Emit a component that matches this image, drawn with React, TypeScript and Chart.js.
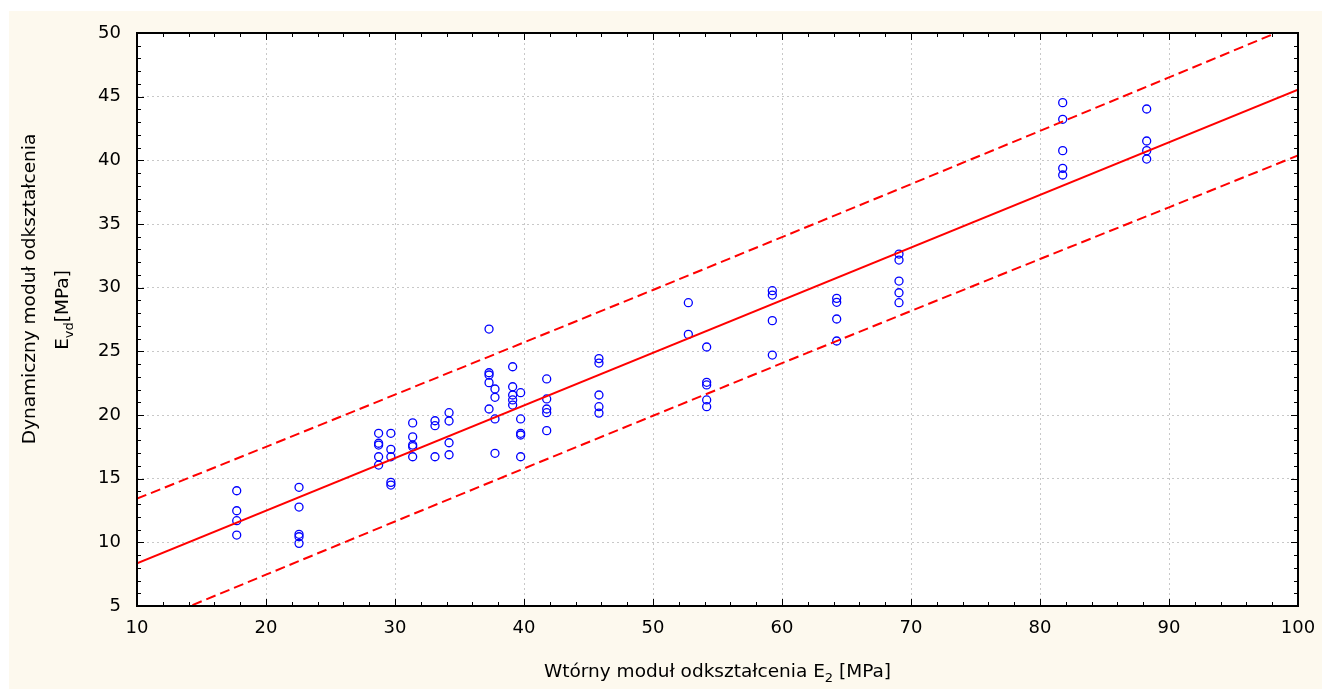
import { useEffect, useRef } from "react";
import { Chart, registerables } from "chart.js";
Chart.register(...registerables);

// Wtórny moduł E2 levels and the measured Evd values at each level
const e2Levels = [17.73, 22.56, 28.73, 29.68, 31.37, 33.1, 34.19, 37.29, 37.75, 39.12, 39.74, 41.76, 45.81, 52.74, 54.16, 59.25, 64.24, 69.07, 81.76, 88.27];
const evdAtLevel = [
  [14.05, 12.48, 11.7, 10.57],
  [14.32, 12.77, 10.63, 10.44, 9.92],
  [18.56, 17.78, 17.64, 16.72, 16.07],
  [18.56, 17.3, 16.72, 14.71, 14.5],
  [19.38, 18.28, 17.64, 17.51, 16.72],
  [19.55, 19.16, 16.72],
  [20.18, 19.53, 17.82, 16.88],
  [26.75, 23.32, 23.14, 22.54, 20.47],
  [22.04, 21.39, 19.69, 16.99],
  [23.79, 22.22, 21.57, 21.18, 20.78],
  [21.75, 19.69, 18.56, 18.43, 16.72],
  [22.83, 21.26, 20.47, 20.18, 18.77],
  [24.43, 24.08, 21.57, 20.65, 20.15],
  [28.82, 26.33],
  [25.34, 22.57, 22.36, 21.18, 20.65],
  [29.76, 29.42, 27.41, 24.71],
  [29.16, 28.85, 27.54, 25.81],
  [32.64, 32.17, 30.52, 29.6, 28.82],
  [44.53, 43.22, 40.76, 39.37, 38.85],
  [44.03, 41.52, 40.76, 40.1],
];

// Regression line (read at the plot edges)
const fitX = [10, 100];
const fitY = [8.35, 45.55];

// Dashed band
const bandX = [10, 20, 30, 40, 50, 60, 70, 80, 90, 100];
const bandUpper = [13.43, 17.5, 21.6, 25.7, 29.82, 33.97, 38.13, 42.31, 46.51, 50.72];
const bandLower = [3.27, 7.46, 11.64, 15.8, 19.94, 24.07, 28.17, 32.25, 36.31, 40.38];

const xMin = 10, xMax = 100, xStep = 10, xMinorStep = 2;
const yMin = 5, yMax = 50, yStep = 5, yMinorStep = 1;

const xTitleMain = "Wtórny moduł odkształcenia E";
const xTitleSub = "2";
const xTitleTail = " [MPa]";
const yTitleLine1 = "Dynamiczny moduł odkształcenia";
const yTitleMain = "E";
const yTitleSub = "vd";
const yTitleTail = "[MPa]";

const FONT = '"DejaVu Sans", sans-serif';
const W = 1313, H = 678;

function drawParts(ctx: CanvasRenderingContext2D, parts: { t: string; sub: boolean }[], cx: number, base: number, size: number, subSize: number, subDrop: number) {
  let total = 0;
  const widths = parts.map((p) => {
    ctx.font = `${p.sub ? subSize : size}px ${FONT}`;
    const w = ctx.measureText(p.t).width;
    total += w;
    return w;
  });
  let x = cx - total / 2;
  ctx.textAlign = "left";
  ctx.textBaseline = "alphabetic";
  parts.forEach((p, i) => {
    ctx.font = `${p.sub ? subSize : size}px ${FONT}`;
    ctx.fillText(p.t, x, base + (p.sub ? subDrop : 0));
    x += widths[i];
  });
}

const framePlugin = {
  id: "framePlugin",
  beforeDraw(chart: any) {
    const { ctx, chartArea: a } = chart;
    ctx.save();
    ctx.fillStyle = "#ffffff";
    ctx.fillRect(a.left, a.top, a.right - a.left, a.bottom - a.top);
    ctx.restore();
  },
  afterDraw(chart: any) {
    const { ctx, chartArea: a, scales } = chart;
    const xs = scales.x, ys = scales.y;
    ctx.save();
    ctx.strokeStyle = "#000";
    ctx.lineWidth = 1;
    ctx.beginPath();
    for (let v = xMin; v <= xMax + 1e-9; v += xMinorStep) {
      const px = Math.round(xs.getPixelForValue(v)) + 0.5;
      const len = Math.abs(v % xStep) < 1e-9 ? 7 : 4;
      ctx.moveTo(px, a.bottom);
      ctx.lineTo(px, a.bottom - len);
      ctx.moveTo(px, a.top);
      ctx.lineTo(px, a.top + len);
    }
    for (let v = yMin; v <= yMax + 1e-9; v += yMinorStep) {
      const py = Math.round(ys.getPixelForValue(v)) + 0.5;
      const len = Math.abs(v % yStep) < 1e-9 ? 7 : 4;
      ctx.moveTo(a.left, py);
      ctx.lineTo(a.left + len, py);
      ctx.moveTo(a.right, py);
      ctx.lineTo(a.right - len, py);
    }
    ctx.stroke();
    ctx.lineWidth = 2;
    ctx.strokeRect(a.left, a.top, a.right - a.left, a.bottom - a.top);

    ctx.fillStyle = "#000";
    // x title
    drawParts(
      ctx,
      [
        { t: xTitleMain, sub: false },
        { t: xTitleSub, sub: true },
        { t: xTitleTail, sub: false },
      ],
      (a.left + a.right) / 2,
      666,
      18.5,
      13,
      5
    );
    // y title line 1
    ctx.save();
    ctx.translate(26, 278);
    ctx.rotate(-Math.PI / 2);
    drawParts(ctx, [{ t: yTitleLine1, sub: false }], 0, 0, 18.5, 13, 5);
    ctx.restore();
    // y title line 2
    ctx.save();
    ctx.translate(59, 299);
    ctx.rotate(-Math.PI / 2);
    drawParts(
      ctx,
      [
        { t: yTitleMain, sub: false },
        { t: yTitleSub, sub: true },
        { t: yTitleTail, sub: false },
      ],
      0,
      0,
      18.5,
      13,
      5
    );
    ctx.restore();
    ctx.restore();
  },
};

export default function App() {
  const ref = useRef<HTMLCanvasElement | null>(null);
  useEffect(() => {
    if (!ref.current) return;
    const points: { x: number; y: number }[] = [];
    e2Levels.forEach((x, i) => evdAtLevel[i].forEach((y) => points.push({ x, y })));
    const chart = new Chart(ref.current, {
      type: "scatter",
      data: {
        datasets: [
          {
            type: "line",
            data: bandX.map((x, i) => ({ x, y: bandUpper[i] })),
            borderColor: "#ff0000",
            borderWidth: 2,
            borderDash: [10, 5],
            pointRadius: 0,
            fill: false,
          },
          {
            type: "line",
            data: bandX.map((x, i) => ({ x, y: bandLower[i] })),
            borderColor: "#ff0000",
            borderWidth: 2,
            borderDash: [10, 5],
            pointRadius: 0,
            fill: false,
          },
          {
            type: "line",
            data: fitX.map((x, i) => ({ x, y: fitY[i] })),
            borderColor: "#ff0000",
            borderWidth: 2,
            pointRadius: 0,
            fill: false,
          },
          {
            type: "scatter",
            data: points,
            pointStyle: "circle",
            pointRadius: 4,
            borderColor: "#0000ff",
            backgroundColor: "rgba(0,0,0,0)",
            borderWidth: 1.3,
          },
        ],
      } as any,
      options: {
        animation: false,
        responsive: false,
        events: [],
        layout: { padding: { left: 0, right: W - 1289, top: 22, bottom: 0 } },
        plugins: { legend: { display: false }, tooltip: { enabled: false } },
        scales: {
          x: {
            type: "linear",
            min: xMin,
            max: xMax,
            afterFit: (s: any) => {
              s.height = H - 595;
              s.paddingLeft = 0;
              s.paddingRight = 0;
            },
            ticks: { stepSize: xStep, color: "#000", font: { family: FONT, size: 18 }, padding: 12 },
            grid: { color: "#c8c8c8", lineWidth: 1, drawTicks: false },
            border: { display: false, dash: [2, 3] },
          },
          y: {
            type: "linear",
            min: yMin,
            max: yMax,
            afterFit: (s: any) => {
              s.width = 128;
              s.paddingTop = 0;
              s.paddingBottom = 0;
            },
            ticks: { stepSize: yStep, color: "#000", font: { family: FONT, size: 18 }, padding: 16 },
            grid: { color: "#c8c8c8", lineWidth: 1, drawTicks: false },
            border: { display: false, dash: [2, 3] },
          },
        },
      } as any,
      plugins: [framePlugin],
    });
    return () => chart.destroy();
  }, []);
  return (
    <div style={{ position: "fixed", left: 9, top: 11, width: W, height: H, background: "#fdf9ee" }}>
      <canvas ref={ref} width={W} height={H} style={{ display: "block" }} />
    </div>
  );
}
